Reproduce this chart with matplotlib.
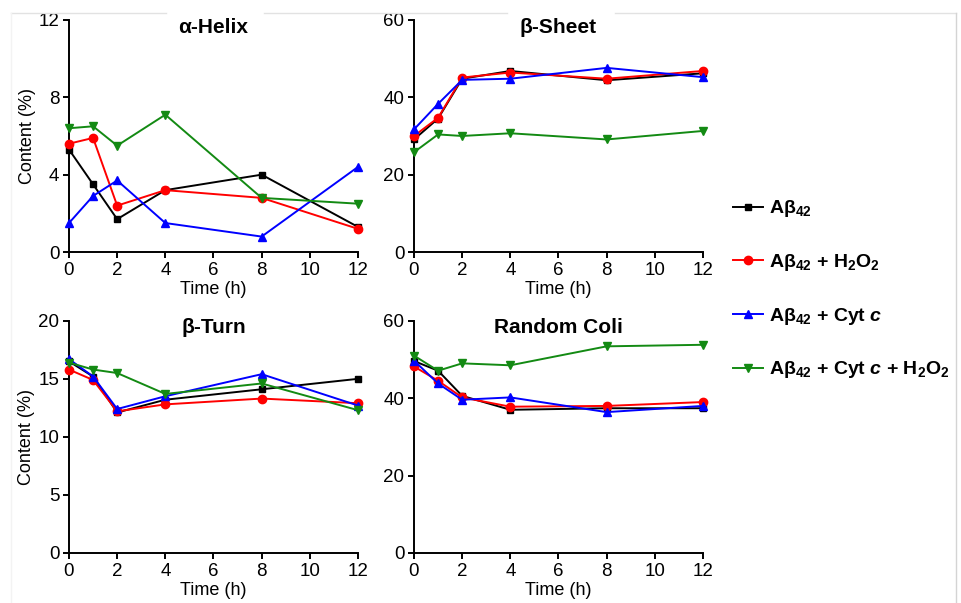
import matplotlib
matplotlib.use("Agg")
import matplotlib.pyplot as plt
from matplotlib.lines import Line2D

plt.rcParams['font.family'] = ['Liberation Sans', 'DejaVu Sans']
plt.rcParams['mathtext.fontset'] = 'custom'
plt.rcParams['mathtext.rm'] = 'Liberation Sans:bold'
plt.rcParams['mathtext.it'] = 'Liberation Sans:italic:bold'
plt.rcParams['mathtext.bf'] = 'Liberation Sans:bold'

time = [0, 1, 2, 4, 8, 12]

# alpha-helix content (%)
helix_ab = [5.3, 3.5, 1.7, 3.2, 4.0, 1.3]
helix_ab_h2o2 = [5.6, 5.9, 2.4, 3.2, 2.8, 1.2]
helix_ab_cyt = [1.5, 2.9, 3.7, 1.5, 0.8, 4.4]
helix_ab_cyt_h2o2 = [6.4, 6.5, 5.5, 7.1, 2.8, 2.5]

# beta-sheet content (%)
sheet_ab = [29.1, 34.5, 44.8, 46.8, 44.4, 46.2]
sheet_ab_h2o2 = [30.0, 34.7, 45.1, 46.4, 44.8, 46.8]
sheet_ab_cyt = [31.7, 38.3, 44.5, 44.8, 47.6, 45.2]
sheet_ab_cyt_h2o2 = [25.8, 30.4, 30.0, 30.7, 29.1, 31.3]

# beta-turn content (%)
turn_ab = [16.5, 15.2, 12.1, 13.2, 14.1, 15.0]
turn_ab_h2o2 = [15.8, 14.9, 12.2, 12.8, 13.3, 12.9]
turn_ab_cyt = [16.7, 15.2, 12.4, 13.5, 15.4, 12.7]
turn_ab_cyt_h2o2 = [16.4, 15.8, 15.5, 13.7, 14.6, 12.3]

# random coil content (%)
coil_ab = [49.6, 47.1, 40.6, 37.0, 37.4, 37.4]
coil_ab_h2o2 = [48.2, 44.5, 40.2, 37.8, 38.0, 39.0]
coil_ab_cyt = [49.7, 43.8, 39.6, 40.2, 36.4, 38.0]
coil_ab_cyt_h2o2 = [51.0, 47.1, 49.0, 48.5, 53.4, 53.8]

labels = [r'A$\mathrm{\beta_{42}}$',
          r'A$\mathrm{\beta_{42}}$ + H$\mathrm{_2}$O$\mathrm{_2}$',
          r'A$\mathrm{\beta_{42}}$ + Cyt $c$',
          r'A$\mathrm{\beta_{42}}$ + Cyt $c$ + H$\mathrm{_2}$O$\mathrm{_2}$']
colors = ['black', '#ff0000', '#0000ff', '#138a13']
markers = ['s', 'o', '^', 'v']
msizes = [5, 6, 6, 6]

panels = [
    ('α-Helix', [helix_ab, helix_ab_h2o2, helix_ab_cyt, helix_ab_cyt_h2o2], 12, [0, 4, 8, 12]),
    ('β-Sheet', [sheet_ab, sheet_ab_h2o2, sheet_ab_cyt, sheet_ab_cyt_h2o2], 60, [0, 20, 40, 60]),
    ('β-Turn', [turn_ab, turn_ab_h2o2, turn_ab_cyt, turn_ab_cyt_h2o2], 20, [0, 5, 10, 15, 20]),
    ('Random Coli', [coil_ab, coil_ab_h2o2, coil_ab_cyt, coil_ab_cyt_h2o2], 60, [0, 20, 40, 60]),
]

fig = plt.figure(figsize=(9.61, 6.03), dpi=100)

# faint frame from the original screenshot
W, H = 961.0, 603.0
for x0, x1 in [(11, 166), (264, 507), (615, 956)]:
    fig.add_artist(Line2D([x0 / W, x1 / W], [1 - 13 / H, 1 - 13 / H], color='#e2e2e2', lw=1))
fig.add_artist(Line2D([956 / W, 956 / W], [1 - 13 / H, 0], color='#d4d4d4', lw=1))
fig.add_artist(Line2D([11 / W, 11 / W], [1 - 13 / H, 0], color='#f3f3f3', lw=1))

rects = [[0.0718, 0.582, 0.3007, 0.385],
         [0.4308, 0.582, 0.3007, 0.385],
         [0.0718, 0.083, 0.3007, 0.385],
         [0.4308, 0.083, 0.3007, 0.385]]

axes = []
for i, (title, series, ymax, yticks) in enumerate(panels):
    ax = fig.add_axes(rects[i])
    for s, c, m, ms, lab in zip(series, colors, markers, msizes, labels):
        ax.plot(time, s, color=c, marker=m, markersize=ms, linewidth=1.4,
                label=lab, clip_on=False, zorder=3)
    ax.set_xlim(0, 12)
    ax.set_ylim(0, ymax)
    ax.set_xticks([0, 2, 4, 6, 8, 10, 12])
    ax.set_yticks(yticks)
    for sp in ['top', 'right']:
        ax.spines[sp].set_visible(False)
    for sp in ['left', 'bottom']:
        ax.spines[sp].set_linewidth(1.4)
    ax.tick_params(direction='out', length=4, width=1.4, labelsize=13.5, pad=3)
    ax.set_xlabel('Time (h)', fontsize=13, labelpad=1.5)
    if i % 2 == 0:
        ax.set_ylabel('Content (%)', fontsize=13, labelpad=2)
    ax.text(0.5, 1.01, title, transform=ax.transAxes, ha='center', va='top',
            fontsize=15, fontweight='bold')
    axes.append(ax)

handles, labs = axes[0].get_legend_handles_labels()
fig.legend(handles, labs, loc='center left', bbox_to_anchor=(0.745, 0.52),
           frameon=False, handlelength=1.5, handletextpad=0.35,
           labelspacing=1.68, prop={'weight': 'bold', 'size': 14})

fig.savefig('out.png', dpi=100)
